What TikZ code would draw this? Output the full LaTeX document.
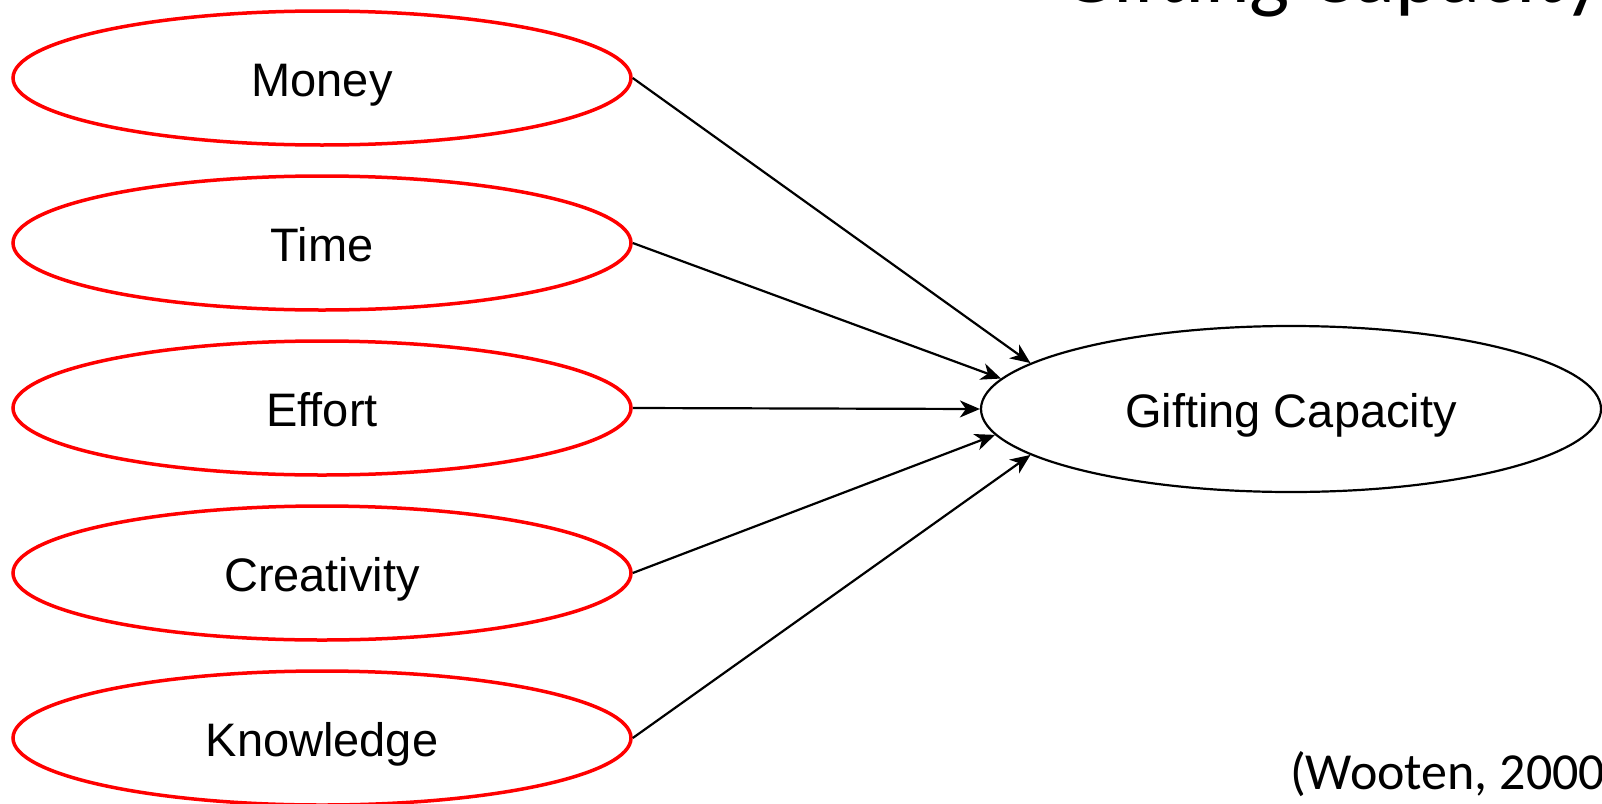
\documentclass[tikz,border=0pt]{standalone}
\usepackage{fontspec}
\setmainfont{Liberation Sans}
\newfontfamily\calfont{Carlito}
\usetikzlibrary{shapes.geometric,arrows.meta}
\begin{document}
\begin{tikzpicture}[x=1pt,y=-1pt,
  factor/.style={ellipse, draw=red, line width=3.5pt, minimum width=618pt, minimum height=134pt, inner sep=0pt, text height=36pt, text depth=0pt, font=\fontsize{47}{56}\selectfont},
  target/.style={ellipse, draw=black, line width=2.2pt, minimum width=620pt, minimum height=166pt, inner sep=0pt, text height=36pt, text depth=0pt, font=\fontsize{47}{56}\selectfont},
  arr/.style={draw=black, line width=2.2pt, -{Stealth[length=20pt,width=17pt,inset=6pt]}},
  title/.style={inner sep=0pt, anchor=base west, font=\calfont\fontsize{85}{92}\selectfont},
  cite/.style={inner sep=0pt, anchor=base west, font=\calfont\fontsize{52}{60}\selectfont}]
\useasboundingbox[fill=white] (0,0) rectangle (1602,803);
\node[title] (ttl) at (1060,2.5) {Gifting Capacity};
\node[cite] (cit) at (1290,789) {(Wooten, 2000)};
\node[factor] (money) at (322,78) {Money};
\node[factor] (time) at (322,243) {Time};
\node[factor] (effort) at (322,408) {Effort};
\node[factor] (creat) at (322,573) {Creativity};
\node[factor] (know) at (322,738) {Knowledge};
\node[target] (gc) at (1291,409) {Gifting Capacity};
\draw[arr] (money.east) -- (gc.170);
\draw[arr] (time.east) -- (gc.174.3);
\draw[arr] (effort.east) -- (gc.180);
\draw[arr] (creat.east) -- (gc.185.7);
\draw[arr] (know.east) -- (gc.190);
\end{tikzpicture}
\end{document}
